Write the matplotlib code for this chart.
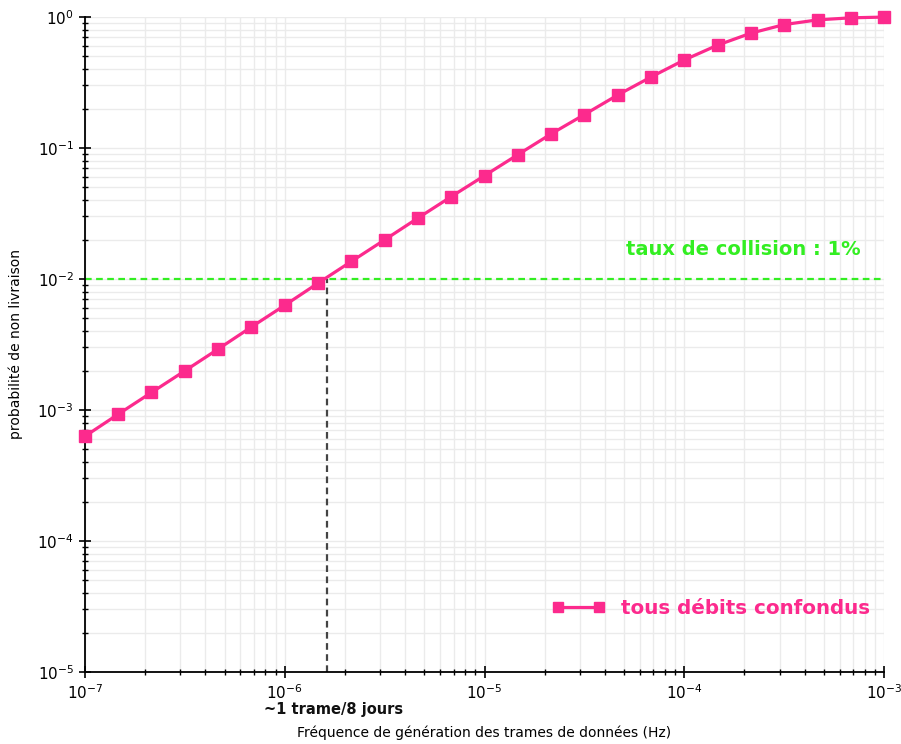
import numpy as np
import matplotlib
matplotlib.use("Agg")
import matplotlib.pyplot as plt
from matplotlib.ticker import LogLocator, NullFormatter

freq_exponents = [-7.0, -6.833, -6.667, -6.5, -6.333, -6.167, -6.0, -5.833, -5.667, -5.5,
                  -5.333, -5.167, -5.0, -4.833, -4.667, -4.5, -4.333, -4.167, -4.0,
                  -3.833, -3.667, -3.5, -3.333, -3.167, -3.0]
prob = [6.3e-4, 9.3e-4, 1.36e-3, 1.99e-3, 2.92e-3, 4.3e-3, 6.3e-3, 9.3e-3, 1.36e-2, 1.99e-2,
        2.92e-2, 4.25e-2, 6.15e-2, 8.9e-2, 0.128, 0.18, 0.254, 0.348, 0.47,
        0.61, 0.752, 0.875, 0.95, 0.985, 0.998]
freq = [10 ** e for e in freq_exponents]

threshold = 1e-2
threshold_freq = 1.62e-6
series_label = "tous débits confondus"
threshold_label = "taux de collision : 1%"
freq_note = "~1 trame/8 jours"

pink = "#fc2a8d"
green = "#33ee22"

fig = plt.figure(figsize=(9.01, 7.44), dpi=100)
ax = fig.add_axes([0.0943, 0.0968, 0.887, 0.8804])

ax.set_xscale("log")
ax.set_yscale("log")
ax.set_xlim(1e-7, 1e-3)
ax.set_ylim(1e-5, 1)

ax.grid(True, which="both", color="#ebebeb", linewidth=1.0)
ax.set_axisbelow(True)

for s in ["top", "right"]:
    ax.spines[s].set_visible(False)
ax.spines["left"].set_linewidth(1.3)
ax.spines["bottom"].set_linewidth(1.3)

ax.xaxis.set_major_locator(LogLocator(base=10, numticks=10))
ax.xaxis.set_minor_locator(LogLocator(base=10, subs=np.arange(2, 10), numticks=100))
ax.yaxis.set_major_locator(LogLocator(base=10, numticks=10))
ax.yaxis.set_minor_locator(LogLocator(base=10, subs=np.arange(2, 10), numticks=100))
ax.xaxis.set_minor_formatter(NullFormatter())
ax.yaxis.set_minor_formatter(NullFormatter())
ax.tick_params(which="major", direction="inout", length=9, width=1.2, labelsize=11)
ax.tick_params(which="minor", direction="inout", length=5, width=1.0)

ax.axhline(threshold, color=green, linestyle=(0, (3, 2)), linewidth=1.6, zorder=2)
ax.plot([threshold_freq, threshold_freq], [1e-5, threshold], color="#444444",
        linestyle=(0, (3, 2)), linewidth=1.6, zorder=2)

ax.plot(freq, prob, color=pink, linewidth=2.3, marker="s", markersize=9,
        label=series_label, zorder=3, clip_on=False)

ax.text(0.97, 0.645, threshold_label, transform=ax.transAxes, ha="right", va="center",
        fontsize=14, fontweight="bold", color=green)

leg = ax.legend(loc="lower right", bbox_to_anchor=(1.005, 0.055), frameon=False,
                fontsize=14.3, handlelength=2.7, handletextpad=0.8, numpoints=2,
                markerscale=0.85)
for t in leg.get_texts():
    t.set_color(pink)
    t.set_fontweight("bold")

ax.text(1.75e-6, -0.058, freq_note, transform=ax.get_xaxis_transform(),
        ha="center", va="center", fontsize=10.5, fontweight="bold", color="#111111")

ax.set_xlabel("Fréquence de génération des trames de données (Hz)", fontsize=10, labelpad=17)
ax.set_ylabel("probabilité de non livraison", fontsize=10, labelpad=10)

fig.savefig("out.png", dpi=100)
